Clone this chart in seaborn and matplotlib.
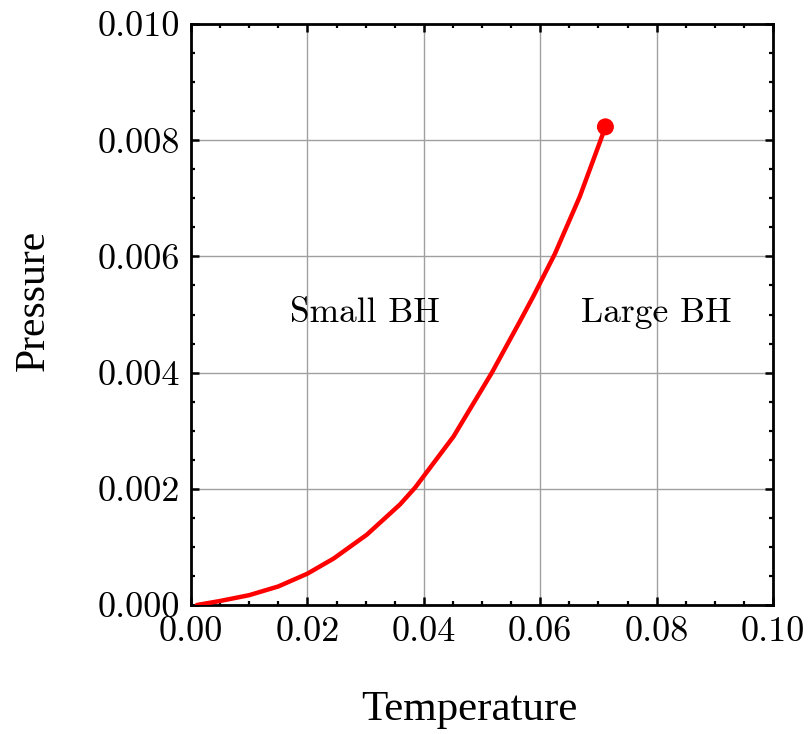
import matplotlib
matplotlib.use("Agg")
import numpy as np
import pandas as pd
import seaborn as sns
import matplotlib.pyplot as plt
from matplotlib.ticker import MultipleLocator, FormatStrFormatter

# coexistence line
temperature = [0.0010, 0.0050, 0.0100, 0.0150, 0.0200, 0.0245, 0.0302, 0.0359, 0.0385,
               0.0451, 0.0517, 0.0565, 0.0588, 0.0625, 0.0668, 0.0703, 0.0712]
pressure = [0.0, 0.00007, 0.00017, 0.00032, 0.00054, 0.00080, 0.00121, 0.00173, 0.00202,
            0.00290, 0.00400, 0.00488, 0.00531, 0.00604, 0.00703, 0.00798, 0.00823]
critical_t = [0.0712]
critical_p = [0.00823]

x_ticks = [0.00, 0.02, 0.04, 0.06, 0.08, 0.10]
y_ticks = [0.000, 0.002, 0.004, 0.006, 0.008, 0.010]

phase_labels = ["Small BH", "Large BH"]
phase_t = [0.0299, 0.0799]
phase_p = [0.00503, 0.00503]


def plot_phase_diagram():
    sns.set_style("ticks")
    plt.rcParams['font.family'] = ['cmr10', 'DejaVu Serif']
    plt.rcParams['axes.formatter.use_mathtext'] = True

    df = pd.DataFrame({'T': temperature, 'P': pressure})

    fig = plt.figure(figsize=(8.08, 7.34), dpi=100)
    ax = fig.add_axes([0.2364, 0.1757, 0.7203, 0.7916])

    sns.lineplot(data=df, x='T', y='P', ax=ax, color='#ff0000', linewidth=3.2,
                 sort=False, estimator=None, zorder=3)
    sns.scatterplot(x=critical_t, y=critical_p, ax=ax, color='#ff0000', s=150,
                    edgecolor='none', zorder=4)

    ax.set_xlim(0, 0.1)
    ax.set_ylim(0, 0.01)
    ax.set_xticks(x_ticks)
    ax.set_yticks(y_ticks)
    ax.xaxis.set_minor_locator(MultipleLocator(0.005))
    ax.yaxis.set_minor_locator(MultipleLocator(0.0005))
    ax.xaxis.set_major_formatter(FormatStrFormatter('%.2f'))
    ax.yaxis.set_major_formatter(FormatStrFormatter('%.3f'))

    ax.grid(True, which='major', color='#a0a0a0', linewidth=1.0)
    for sp in ax.spines.values():
        sp.set_visible(True)
        sp.set_linewidth(2.0)
        sp.set_color('black')

    ax.tick_params(which='both', direction='in', top=True, right=True,
                   color='black', labelcolor='black', labelsize=26, pad=8)
    ax.tick_params(which='major', length=6, width=1.8)
    ax.tick_params(which='minor', length=3.2, width=1.6)

    for lab, t, p in zip(phase_labels, phase_t, phase_p):
        ax.text(t, p, lab, fontsize=25.5, ha='center', va='center', color='black')

    ax.set_xlabel('Temperature', fontsize=31, family='Liberation Serif', color='black')
    ax.set_ylabel('Pressure', fontsize=30, family='Liberation Serif', color='black')
    ax.xaxis.label.set_va('center')
    ax.yaxis.label.set_va('center')
    ax.xaxis.set_label_coords(0.479, -0.181)
    ax.yaxis.set_label_coords(-0.271, 0.525)

    fig.savefig('out.png', dpi=100)


if __name__ == '__main__':
    plot_phase_diagram()
